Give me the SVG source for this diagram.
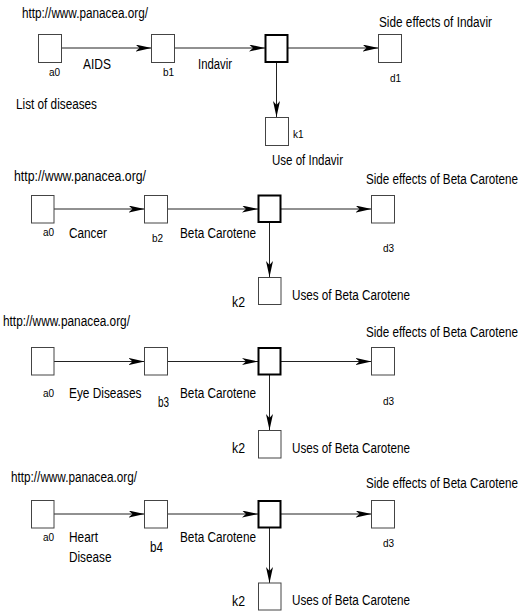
<svg xmlns="http://www.w3.org/2000/svg" width="520" height="611" viewBox="0 0 520 611">
<style>
text{font-family:"Liberation Sans",Arial,sans-serif;font-size:14px;fill:#000}
.s{font-size:10px}
.box{fill:#fff;stroke:#444;stroke-width:1}
.hub{fill:#fff;stroke:#000;stroke-width:2}
.edge{stroke:#222;stroke-width:1;fill:none;marker-end:url(#ah)}
</style>
<defs>
<marker id="ah" markerUnits="userSpaceOnUse" markerWidth="17" markerHeight="8" refX="16" refY="3.5" orient="auto">
<path d="M0,0 L16,3.5 L0,7 L4,3.5 z" fill="#000"/>
</marker>
</defs>
<rect width="520" height="611" fill="#fff"/>
<g id="connectors">
<path class="edge" d="M61.5,48 H151.5"/>
<path class="edge" d="M174.5,48 H265"/>
<path class="edge" d="M288,48 H378.5"/>
<path class="edge" d="M276.5,62 V117"/>
<path class="edge" d="M54,209 H144.5"/>
<path class="edge" d="M167.5,209 H258"/>
<path class="edge" d="M281,209 H371.5"/>
<path class="edge" d="M269.5,222 V277"/>
<path class="edge" d="M54,361.5 H144.5"/>
<path class="edge" d="M167.5,361.5 H258"/>
<path class="edge" d="M281,361.5 H371.5"/>
<path class="edge" d="M269.5,375 V430"/>
<path class="edge" d="M54,514 H144.5"/>
<path class="edge" d="M167.5,514 H258"/>
<path class="edge" d="M281,514 H371.5"/>
<path class="edge" d="M269.5,528 V583"/>
</g>
<g id="panel1">
<text x="22" y="18" textLength="126" lengthAdjust="spacingAndGlyphs">http://www.panacea.org/</text>
<text x="16" y="109" textLength="81" lengthAdjust="spacingAndGlyphs">List of diseases</text>
<g id="p1-a0"><rect class="box" x="38.5" y="34.5" width="23" height="28"/><text class="s" x="49" y="76">a0</text></g>
<g id="p1-b1"><rect class="box" x="151.5" y="34.5" width="23" height="28"/><text class="s" x="163" y="76">b1</text></g>
<g id="p1-hub"><rect class="hub" x="265.5" y="35" width="22" height="27"/></g>
<g id="p1-d1"><rect class="box" x="378.5" y="34.5" width="23" height="28"/><text class="s" x="390" y="82">d1</text><text x="379" y="27" textLength="113" lengthAdjust="spacingAndGlyphs">Side effects of Indavir</text></g>
<g id="p1-k1"><rect class="box" x="265.5" y="117.5" width="23" height="28"/><text class="s" x="293" y="138">k1</text><text x="272" y="165" textLength="71" lengthAdjust="spacingAndGlyphs">Use of Indavir</text></g>
<text x="83" y="69" textLength="28" lengthAdjust="spacingAndGlyphs">AIDS</text>
<text x="198" y="69" textLength="34" lengthAdjust="spacingAndGlyphs">Indavir</text>
</g>
<g id="panel2">
<text x="14" y="181" textLength="132" lengthAdjust="spacingAndGlyphs">http://www.panacea.org/</text>
<g id="p2-a0"><rect class="box" x="31.5" y="195.5" width="22.5" height="27.5"/><text class="s" x="43" y="236">a0</text></g>
<g id="p2-b2"><rect class="box" x="144.5" y="195.5" width="23" height="27.5"/><text class="s" x="152" y="242">b2</text></g>
<g id="p2-hub"><rect class="hub" x="258.5" y="195.5" width="22" height="26.5"/></g>
<g id="p2-d3"><rect class="box" x="371.5" y="195.5" width="23" height="27.5"/><text class="s" x="383" y="252">d3</text><text x="366" y="184" textLength="152" lengthAdjust="spacingAndGlyphs">Side effects of Beta Carotene</text></g>
<g id="p2-k2"><rect class="box" x="258.5" y="277.5" width="22.5" height="27"/><text x="232" y="307" textLength="13" lengthAdjust="spacingAndGlyphs">k2</text><text x="292" y="300" textLength="118" lengthAdjust="spacingAndGlyphs">Uses of Beta Carotene</text></g>
<text x="69" y="238" textLength="38" lengthAdjust="spacingAndGlyphs">Cancer</text>
<text x="180" y="238" textLength="76" lengthAdjust="spacingAndGlyphs">Beta Carotene</text>
</g>
<g id="panel3">
<text x="3" y="326" textLength="127" lengthAdjust="spacingAndGlyphs">http://www.panacea.org/</text>
<g id="p3-a0"><rect class="box" x="31.5" y="347.5" width="22.5" height="27.5"/><text class="s" x="43" y="397">a0</text></g>
<g id="p3-b3"><rect class="box" x="144.5" y="347.5" width="23" height="27.5"/><text x="158" y="407" textLength="11" lengthAdjust="spacingAndGlyphs">b3</text></g>
<g id="p3-hub"><rect class="hub" x="258.5" y="348" width="22" height="26.5"/></g>
<g id="p3-d3"><rect class="box" x="371.5" y="347.5" width="23" height="27.5"/><text class="s" x="383" y="405">d3</text><text x="366" y="337" textLength="152" lengthAdjust="spacingAndGlyphs">Side effects of Beta Carotene</text></g>
<g id="p3-k2"><rect class="box" x="258.5" y="430.5" width="22.5" height="27.5"/><text x="232" y="453" textLength="13" lengthAdjust="spacingAndGlyphs">k2</text><text x="292" y="453" textLength="118" lengthAdjust="spacingAndGlyphs">Uses of Beta Carotene</text></g>
<text x="69" y="398" textLength="72.5" lengthAdjust="spacingAndGlyphs">Eye Diseases</text>
<text x="180" y="398" textLength="76" lengthAdjust="spacingAndGlyphs">Beta Carotene</text>
</g>
<g id="panel4">
<text x="11" y="482" textLength="126" lengthAdjust="spacingAndGlyphs">http://www.panacea.org/</text>
<g id="p4-a0"><rect class="box" x="31.5" y="500.5" width="22.5" height="27.5"/><text class="s" x="43" y="541">a0</text></g>
<g id="p4-b4"><rect class="box" x="144.5" y="500.5" width="23" height="27.5"/><text x="150" y="552" textLength="13" lengthAdjust="spacingAndGlyphs">b4</text></g>
<g id="p4-hub"><rect class="hub" x="258.5" y="501" width="22" height="26.5"/></g>
<g id="p4-d3"><rect class="box" x="371.5" y="500.5" width="23" height="27.5"/><text class="s" x="383" y="547">d3</text><text x="366" y="488" textLength="152" lengthAdjust="spacingAndGlyphs">Side effects of Beta Carotene</text></g>
<g id="p4-k2"><rect class="box" x="258.5" y="583" width="22.5" height="27"/><text x="232" y="606" textLength="13" lengthAdjust="spacingAndGlyphs">k2</text><text x="292" y="605" textLength="118" lengthAdjust="spacingAndGlyphs">Uses of Beta Carotene</text></g>
<text x="69" y="542" textLength="29" lengthAdjust="spacingAndGlyphs">Heart</text>
<text x="69" y="562" textLength="42.5" lengthAdjust="spacingAndGlyphs">Disease</text>
<text x="180" y="542" textLength="76" lengthAdjust="spacingAndGlyphs">Beta Carotene</text>
</g>
</svg>
